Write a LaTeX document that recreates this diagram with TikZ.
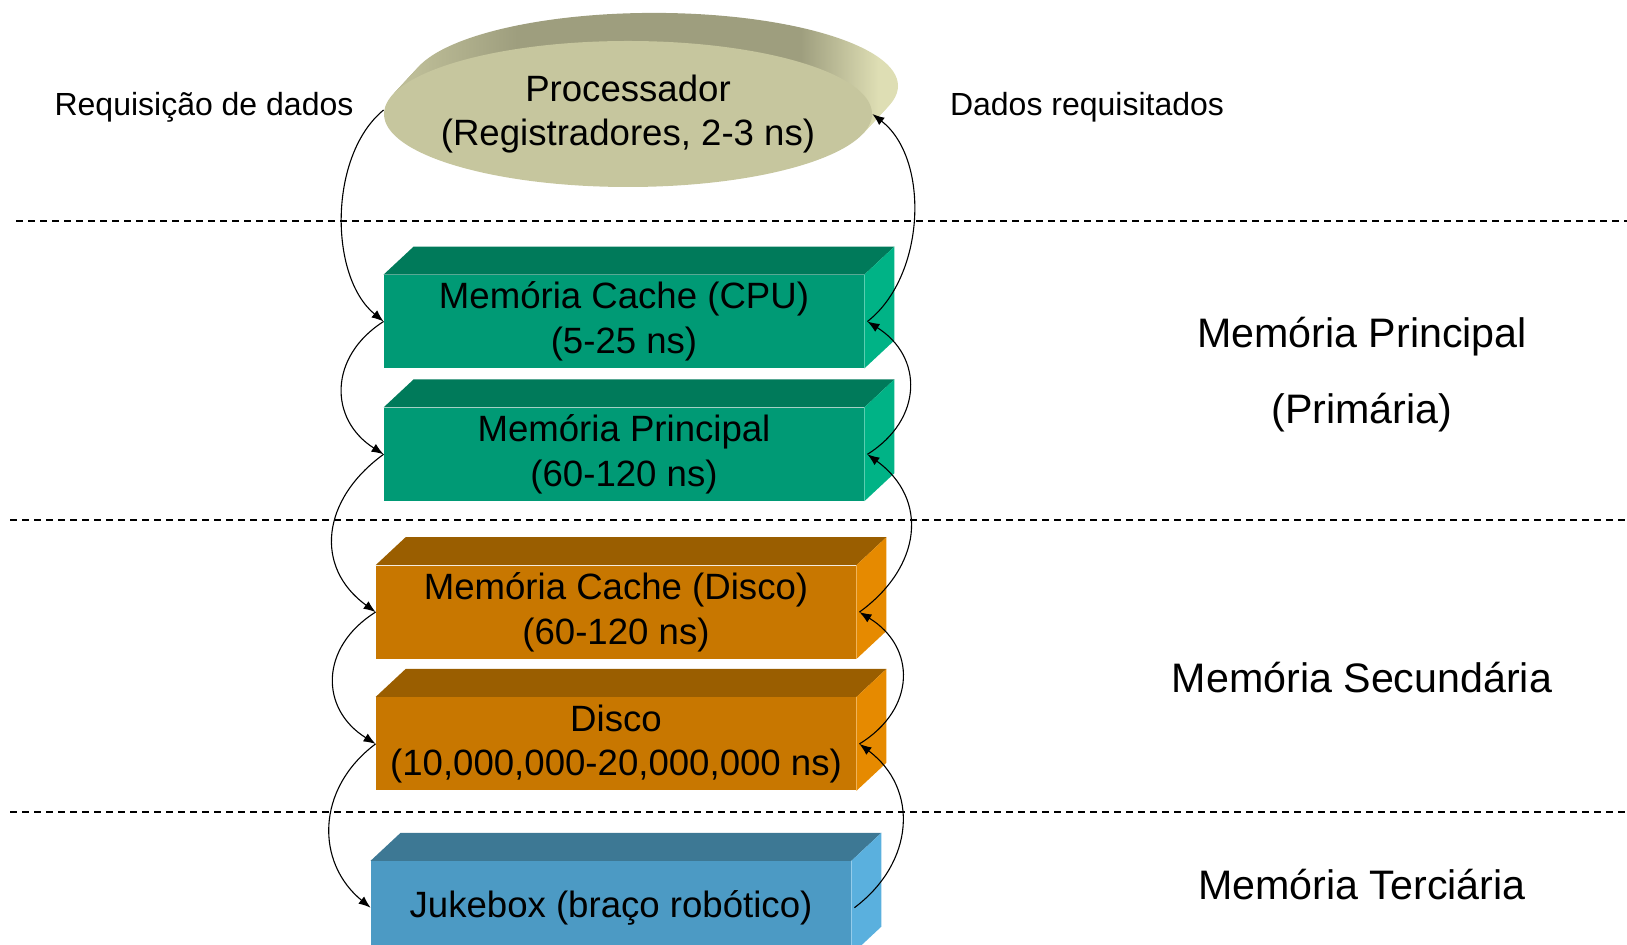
\documentclass[tikz,border=0pt]{standalone}
\usepackage{fontspec}
\setmainfont{Liberation Sans}
\usepackage{tikz}
\usetikzlibrary{arrows.meta,positioning,shapes.geometric,backgrounds}
\definecolor{cachegreen}{HTML}{009A75}
\definecolor{cachegreentop}{HTML}{007A5A}
\definecolor{cachegreenside}{HTML}{00B386}
\definecolor{discorange}{HTML}{C87700}
\definecolor{discorangetop}{HTML}{9A5E00}
\definecolor{discorangeside}{HTML}{E68A00}
\definecolor{jukeblue}{HTML}{4C9AC4}
\definecolor{jukebluetop}{HTML}{3D7894}
\definecolor{jukeblueside}{HTML}{5AB0DE}
\definecolor{cpuface}{HTML}{C6C69E}
\definecolor{cpurimdark}{HTML}{9E9E7E}
\definecolor{cpurimleft}{HTML}{BEBE98}
\definecolor{cpurimlight}{HTML}{DEDEB4}
\pgfdeclarehorizontalshading{cpurim}{100bp}{color(0bp)=(cpurimleft); color(25bp)=(cpurimleft); color(36bp)=(cpurimdark); color(65bp)=(cpurimdark); color(73bp)=(cpurimlight); color(100bp)=(cpurimlight)}
\newcommand{\boxtext}{\fontsize{18.3}{22.3}\selectfont}
\newcommand{\boxfaces}[3]{%
  \fill[#2] (#1.north west) -- ([shift={(15pt,14pt)}]#1.north west) -- ([shift={(15pt,14pt)}]#1.north east) -- (#1.north east) -- cycle;
  \fill[#3] (#1.north east) -- ([shift={(15pt,14pt)}]#1.north east) -- ([shift={(15pt,14pt)}]#1.south east) -- (#1.south east) -- cycle;}
\tikzset{
  membox/.style={rectangle, minimum width=240pt, minimum height=46.5pt, inner sep=0pt, align=center, font=\boxtext, text=black},
  cpunode/.style={ellipse, fill=cpuface, minimum width=244pt, minimum height=73pt, inner sep=0pt},
  cputext/.style={align=center, font=\boxtext, inner sep=0pt},
  sidelabel/.style={align=center, font=\fontsize{16}{19}\selectfont},
  levellabel/.style={align=center, font=\fontsize{20.6}{38}\selectfont},
  sepline/.style={dash pattern=on 3.5pt off 2.5pt, line width=0.6pt},
  flow/.style={-{Latex[length=6pt,width=4.6pt]}, line width=0.55pt}
}

\begin{document}
\begin{tikzpicture}[x=0.5pt, y=-0.5pt]
  \useasboundingbox (0,0) rectangle (1627,945);
  \clip (0,0) rectangle (1627,945);
  % processador
  \node[cpunode] (cpu) at (628,114) {};
  \node[cputext] (cputxt) at (cpu.center) {Processador\\(Registradores, 2-3 ns)};
  \begin{scope}[on background layer]
    \foreach \k in {1,...,13}
      \shade[shading=cpurim] ([shift={({\k*1pt},{\k*1.08pt})}]cpu.center) ellipse [x radius=122pt, y radius=36.5pt];
  \end{scope}

  % hierarquia
  \node[membox, fill=cachegreen] (ccpu) at (624,321.5) {Memória Cache (CPU)\\(5-25 ns)};
  \node[membox, fill=cachegreen, below=19.5pt of ccpu] (mprin) {Memória Principal\\(60-120 ns)};
  \node[membox, fill=discorange, below=32pt of mprin, xshift=-4pt] (cdisk) {Memória Cache (Disco)\\(60-120 ns)};
  \node[membox, fill=discorange, below=19pt of cdisk] (disk) {Disco\\(10,000,000-20,000,000 ns)};
  \node[membox, fill=jukeblue, below=35pt of disk, xshift=-2.5pt] (juke) {Jukebox (braço robótico)};
  \boxfaces{ccpu}{cachegreentop}{cachegreenside}
  \boxfaces{mprin}{cachegreentop}{cachegreenside}
  \boxfaces{cdisk}{discorangetop}{discorangeside}
  \boxfaces{disk}{discorangetop}{discorangeside}
  \boxfaces{juke}{jukebluetop}{jukeblueside}

  % rotulos
  \node[sidelabel] (req) at (204,107) {Requisição de dados};
  \node[sidelabel] (dad) at (1087,107) {Dados requisitados};
  \node[levellabel] (lvprim) at (1362,375) {Memória Principal\\(Primária)};
  \node[levellabel] (lvsec) at (1362,678) {Memória Secundária};
  \node[levellabel] (lvter) at (1362,885) {Memória Terciária};

  \draw[sepline] (16,221) -- (1627,221);
  \draw[sepline] (10,520) -- (1627,520);
  \draw[sepline] (10,812) -- (1627,812);

  % requisicao (descendo)
  \draw[flow] ([yshift=2pt]cpu.west) .. controls +(-55,45) and +(-55,-45) .. (ccpu.west);
  \draw[flow] (ccpu.west) .. controls +(-55,35) and +(-55,-35) .. (mprin.west);
  \draw[flow] (mprin.west) .. controls +(-62,45) and +(-62,-45) .. (cdisk.west);
  \draw[flow] (cdisk.west) .. controls +(-56,35) and +(-56,-35) .. (disk.west);
  \draw[flow] (disk.west) .. controls +(-60,45) and +(-55,-45) .. (juke.west);
  % dados (subindo)
  \draw[flow] ([xshift=1.5pt]ccpu.east) .. controls +(58,-45) and +(58,45) .. (cpu.east);
  \draw[flow] ([xshift=1.5pt]mprin.east) .. controls +(56,-35) and +(56,35) .. ([xshift=1.5pt]ccpu.east);
  \draw[flow] ([xshift=1.5pt]cdisk.east) .. controls +(62,-45) and +(62,45) .. ([xshift=1.5pt]mprin.east);
  \draw[flow] ([xshift=1.5pt]disk.east) .. controls +(57,-35) and +(57,35) .. ([xshift=1.5pt]cdisk.east);
  \draw[flow] ([xshift=1.5pt]juke.east) .. controls +(60,-45) and +(60,45) .. ([xshift=1.5pt]disk.east);
\end{tikzpicture}
\end{document}
